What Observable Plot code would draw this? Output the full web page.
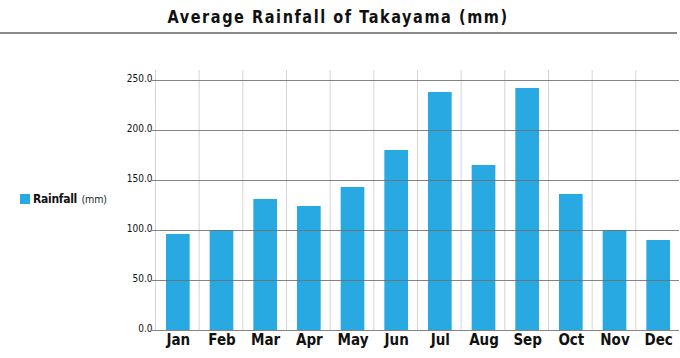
<!DOCTYPE html>
<html>
<head>
<meta charset="utf-8">
<script src="https://cdn.jsdelivr.net/npm/d3@7"></script>
<script src="https://cdn.jsdelivr.net/npm/@observablehq/plot@0.6"></script>
<style>
  html, body { margin: 0; padding: 0; background: #fff; }
  #wrap { position: relative; width: 680px; height: 358px; overflow: hidden; }
  #title {
    height: 32px; border-bottom: 2px solid #8a8a8a;
    text-align: center; width: 677px; line-height: 33px;
  }
  #title span {
    display: inline-block; transform: scaleX(0.87); transform-origin: center;
    font-family: "DejaVu Sans Condensed", "DejaVu Sans", sans-serif;
    font-weight: bold; font-size: 18.5px; letter-spacing: 1.8px; color: #111;
  }
  #legend {
    position: absolute; left: 20px; top: 192px; display: flex; align-items: center;
    font-family: "Open Sans", "Noto Sans", sans-serif; color: #111;
  }
  #legend .sw { width: 10px; height: 10px; background: #29a9e1; margin-right: 3px; }
  #legend .lab { font-weight: bold; font-size: 12px; letter-spacing: -0.3px; font-family: "DejaVu Sans Condensed", sans-serif; }
  #legend .unit { font-size: 10px; margin-left: 5px; }
  svg { display: block; }
</style>
</head>
<body>
<div id="wrap">
  <div id="title"><span>Average Rainfall of Takayama (mm)</span></div>
  <div id="chart"></div>
  <div id="legend"><span class="sw"></span><span class="lab">Rainfall</span><span class="unit">(mm)</span></div>
</div>
<script>
const months = ["Jan","Feb","Mar","Apr","May","Jun","Jul","Aug","Sep","Oct","Nov","Dec"];
const rainfall = [96, 100, 131, 124, 143, 180, 238, 165, 242, 136, 100, 90];
const yTicks = [0, 50, 100, 150, 200, 250];

const data = months.map((m, i) => ({month: m, value: rainfall[i]}));
const plotWidth = 680 - 155 - 1;
const bw = plotWidth / months.length;

const chart = Plot.plot({
  width: 680,
  height: 324,
  marginLeft: 155,
  marginRight: 1,
  marginTop: 36,
  marginBottom: 28,
  x: {domain: months, padding: 0, round: false, axis: null},
  y: {domain: [0, 260], axis: null},
  style: {fontFamily: "'DejaVu Sans Condensed', sans-serif", color: "#111", background: "transparent"},
  marks: [
    Plot.ruleX(months, {x: d => d, dx: -bw / 2, stroke: "#d6d6d6", strokeWidth: 1}),
    Plot.barY(data, {x: "month", y: "value", fill: "#29a9e1", insetLeft: 11, insetRight: 9}),
    Plot.ruleY(yTicks, {y: d => d, stroke: "#6f6f6f", strokeOpacity: 0.85, strokeWidth: 1, insetLeft: -3}),
    Plot.text(yTicks, {y: d => d, text: d => d.toFixed(1), frameAnchor: "left", textAnchor: "end", lineAnchor: "bottom", dx: -3, dy: 1, fontSize: 10, letterSpacing: -0.3, fill: "#111"}),
    Plot.text(months, {x: d => d, text: d => d, frameAnchor: "bottom", lineAnchor: "top", dx: 1, dy: 4, fontSize: 15, fontWeight: "bold", fill: "#111"})
  ]
});
document.getElementById("chart").appendChild(chart);
</script>
</body>
</html>
